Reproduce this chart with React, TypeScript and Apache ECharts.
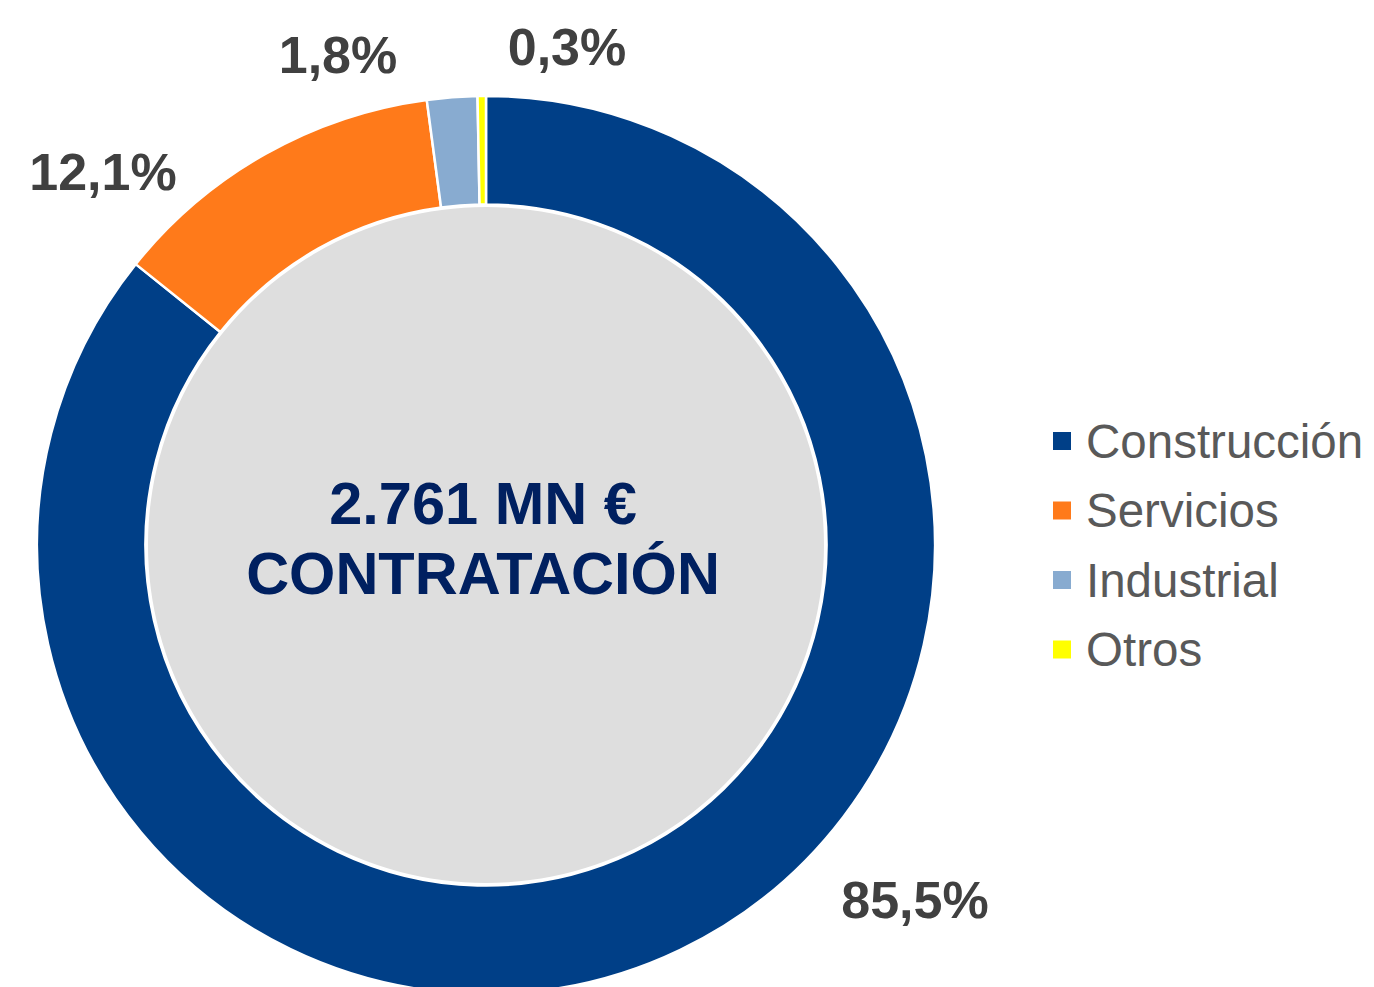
import React, { useEffect, useRef } from "react";
import * as echarts from "echarts";

const categories = ["Construcción", "Servicios", "Industrial", "Otros"];
const values = [85.5, 12.1, 1.8, 0.3];
const colors = ["#003f87", "#ff7a1a", "#88abd0", "#ffff00"];
const labelPositions = [
  [915, 900],
  [103, 172],
  [338, 55],
  [567, 47],
];
const centerLines = ["2.761 MN €", "CONTRATACIÓN"];

const FONT = "'Liberation Sans', Arial, sans-serif";

export default function App() {
  const ref = useRef<HTMLDivElement>(null);
  useEffect(() => {
    if (!ref.current) return;
    const chart = echarts.init(ref.current, null, { renderer: "svg" });
    const cx = 486;
    const cy = 545;
    chart.setOption({
      animation: false,
      backgroundColor: "#ffffff",
      legend: {
        orient: "vertical",
        left: 1051,
        top: 416,
        padding: 0,
        data: categories,
        icon: "rect",
        itemWidth: 20,
        itemHeight: 20,
        itemGap: 19.5,
        selectedMode: false,
        textStyle: {
          fontFamily: FONT,
          fontSize: 47.5,
          lineHeight: 50,
          color: "#595959",
          padding: [0, 0, 0, 9],
        },
      },
      graphic: [
        {
          type: "text",
          x: cx - 3,
          y: cy - 7,
          z: 100,
          style: {
            text: centerLines.join("\n"),
            fontFamily: FONT,
            fontSize: 59.5,
            fontWeight: "bold",
            lineHeight: 70,
            fill: "#002060",
            textAlign: "center",
            textVerticalAlign: "middle",
          },
        },
      ],
      series: [
        {
          type: "pie",
          silent: true,
          center: [cx, cy],
          radius: [0, 338],
          label: { show: false },
          labelLine: { show: false },
          itemStyle: { color: "#dedede", borderWidth: 0 },
          data: [{ value: 1, name: "__bg" }],
          z: 1,
        },
        {
          type: "pie",
          center: [cx, cy],
          radius: [340.5, 449],
          startAngle: 90,
          clockwise: true,
          avoidLabelOverlap: false,
          emphasis: { disabled: true },
          itemStyle: { borderColor: "#ffffff", borderWidth: 2.5 },
          label: {
            show: true,
            position: "outside",
            formatter: (p: any) => p.value.toFixed(1).replace(".", ",") + "%",
            fontFamily: FONT,
            fontSize: 52,
            fontWeight: "bold",
            color: "#404040",
          },
          labelLine: { show: false },
          labelLayout: (params: any) => {
            const pos = labelPositions[params.dataIndex];
            return {
              x: pos[0],
              y: pos[1],
              align: "center",
              verticalAlign: "middle",
            };
          },
          data: categories.map((name, i) => ({
            name,
            value: values[i],
            itemStyle: { color: colors[i] },
          })),
          z: 2,
        },
      ],
    });
    return () => chart.dispose();
  }, []);
  return (
    <div
      ref={ref}
      style={{ position: "absolute", left: 0, top: 0, width: 1374, height: 987 }}
    />
  );
}
